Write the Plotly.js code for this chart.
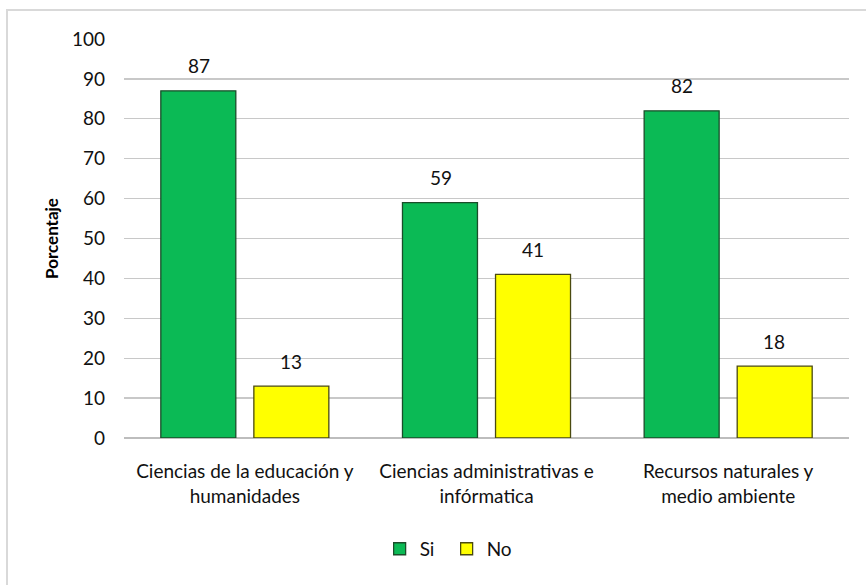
<!DOCTYPE html>
<html>
<head>
<meta charset="utf-8">
<script src="https://cdn.plot.ly/plotly-3.0.1.min.js"></script>
<style>
html,body{margin:0;padding:0;background:#fff;}
#wrap{position:relative;width:866px;height:585px;overflow:hidden;}
#frame{position:absolute;left:6px;top:9px;width:900px;height:700px;border:2px solid #D9D9D9;box-sizing:border-box;pointer-events:none;}
#chart{position:absolute;left:0;top:0;width:866px;height:585px;}
</style>
</head>
<body>
<div id="wrap"><div id="chart"></div><div id="frame"></div></div>
<script>
const categories = ["Ciencias de la educación y<br>humanidades", "Ciencias administrativas e<br>infórmatica", "Recursos naturales y<br>medio ambiente"];
const siValues = [87, 59, 82];
const noValues = [13, 41, 18];
const seriesNames = ["Si", "No"];

const FONT = 'Lato, "Open Sans", sans-serif';

const traces = [
  {type:'bar', name:seriesNames[0], x:categories, y:siValues,
   marker:{color:'#0BBA55', line:{color:'#1B4D2A', width:1.3}}},
  {type:'bar', name:seriesNames[1], x:categories, y:noValues,
   marker:{color:'#FFFF00', line:{color:'#4A4A10', width:1.3}}}
];

const annotations = [];
const shifts = [-46, 46];
[siValues, noValues].forEach((vals, s) => {
  vals.forEach((v, i) => {
    annotations.push({x:categories[i], y:v, xref:'x', yref:'y', text:String(v),
      showarrow:false, xshift:shifts[s], yshift:25, yanchor:'middle',
      font:{family:FONT, size:19, color:'#111'}});
  });
});

const layout = {
  width:866, height:585,
  margin:{l:124, r:17, t:39, b:147},
  paper_bgcolor:'#fff', plot_bgcolor:'#fff',
  barmode:'group', bargap:0.23, bargroupgap:0.194,
  font:{family:FONT, size:19, color:'#111'},
  xaxis:{showgrid:false, showline:false, zeroline:false, ticks:'', automargin:false,
    ticklabelstandoff:20,
    tickfont:{family:FONT, size:19, color:'#111'}},
  yaxis:{range:[0,100], dtick:10, showgrid:true, gridcolor:'#C8C8C8', gridwidth:1.3,
    zeroline:true, zerolinecolor:'#BDBDBD', zerolinewidth:2, automargin:false,
    showline:false, ticks:'', ticklen:0, ticklabelstandoff:18,
    tickfont:{family:FONT, size:19, color:'#111'},
    title:{text:'<b>Porcentaje</b>', font:{family:FONT, size:17, color:'#000'}, standoff:8}},
  showlegend:true,
  legend:{orientation:'h', x:0.445, xanchor:'center', y:-0.278, yanchor:'middle',
    font:{family:FONT, size:19, color:'#111'}, entrywidth:22, entrywidthmode:'pixels',
    itemwidth:30, tracegroupgap:0},
  annotations: annotations
};

Plotly.newPlot('chart', traces, layout, {displayModeBar:false, staticPlot:true});
</script>
</body>
</html>
